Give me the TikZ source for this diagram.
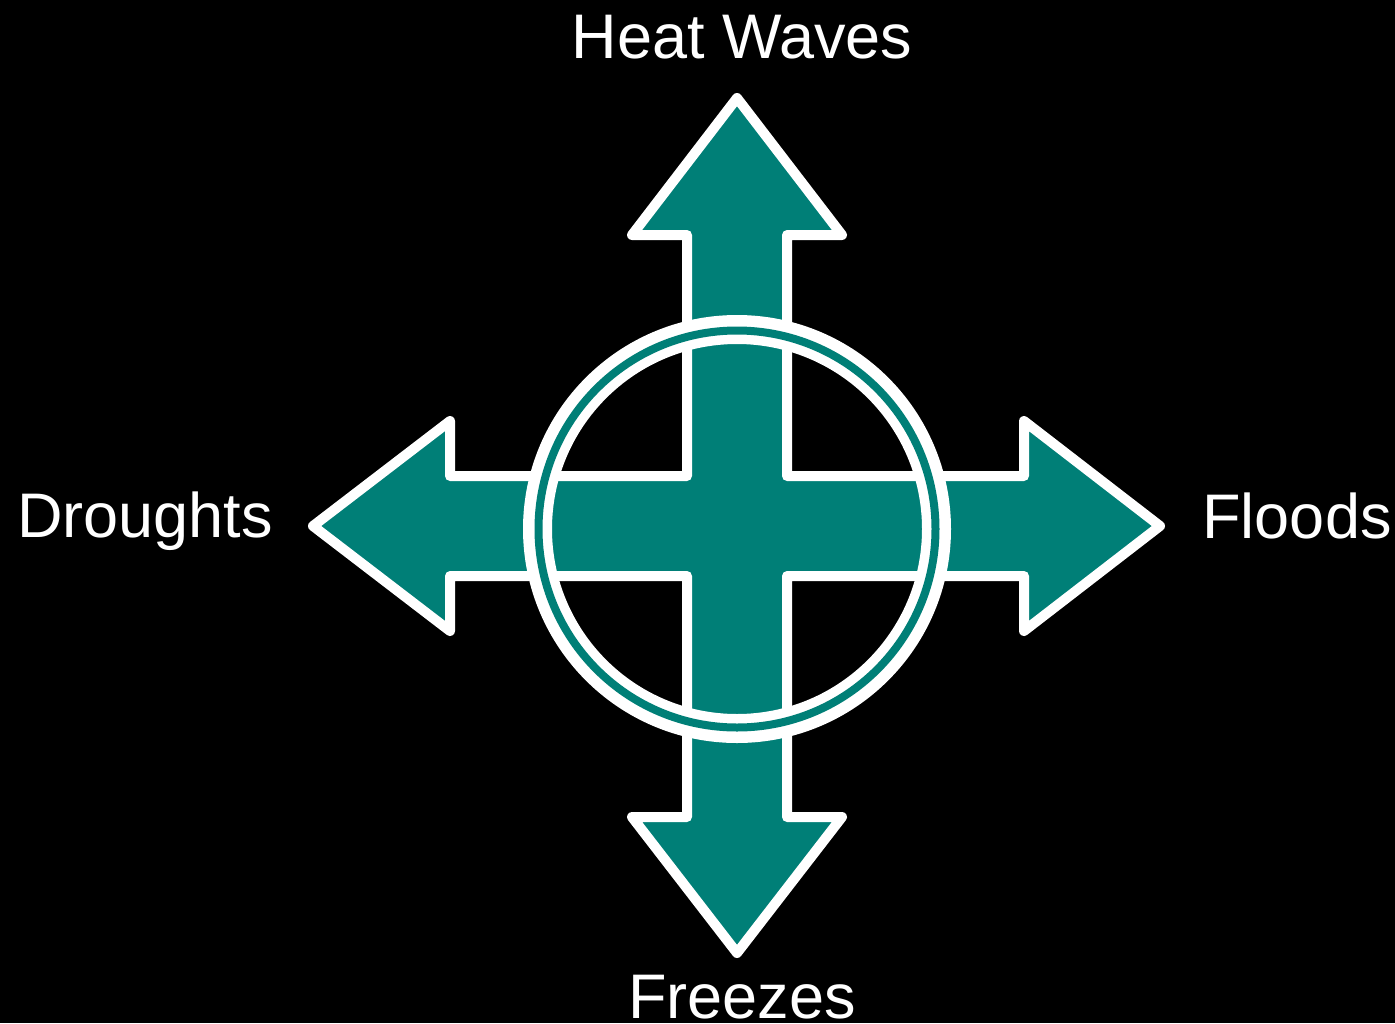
\documentclass[tikz,border=0pt]{standalone}
\usepackage{fontspec}
\setmainfont{Liberation Sans}
\definecolor{tealc}{RGB}{0,127,119}
\begin{document}
\begin{tikzpicture}[x=1pt,y=-1pt,
  lbl/.style={text=white,font=\fontsize{63}{63}\selectfont,inner sep=0pt,anchor=base},
  crossarrow/.style={fill=tealc,draw=white,line width=10pt,line join=round},
  ringouter/.style={draw=white,line width=29pt},
  ringinner/.style={draw=tealc,line width=8pt}]
\fill[black] (0,0) rectangle (1395,1023);
\useasboundingbox (0,0) rectangle (1395,1023);
% four-way arrow
\draw[crossarrow] (737,98) -- (842,235) -- (787,235) -- (787,476) -- (1024,476) -- (1024,421)
  -- (1160,526) -- (1024,631) -- (1024,576) -- (787,576) -- (787,817) -- (842,817)
  -- (737,953) -- (632,817) -- (687,817) -- (687,576) -- (450,576) -- (450,631)
  -- (313,526) -- (450,421) -- (450,476) -- (687,476) -- (687,235) -- (632,235) -- cycle;
% central ring
\coordinate (c) at (737,529);
\draw[ringouter] (c) circle[radius=199.5];
\draw[ringinner] (c) circle[radius=198.5];
% labels
\node[lbl] (heat) at (742,58) {Heat Waves};
\node[lbl] (drought) at (145,537) {Droughts};
\node[lbl] (flood) at (1297,538) {Floods};
\node[lbl] (freeze) at (742,1018) {Freezes};
\end{tikzpicture}
\end{document}
